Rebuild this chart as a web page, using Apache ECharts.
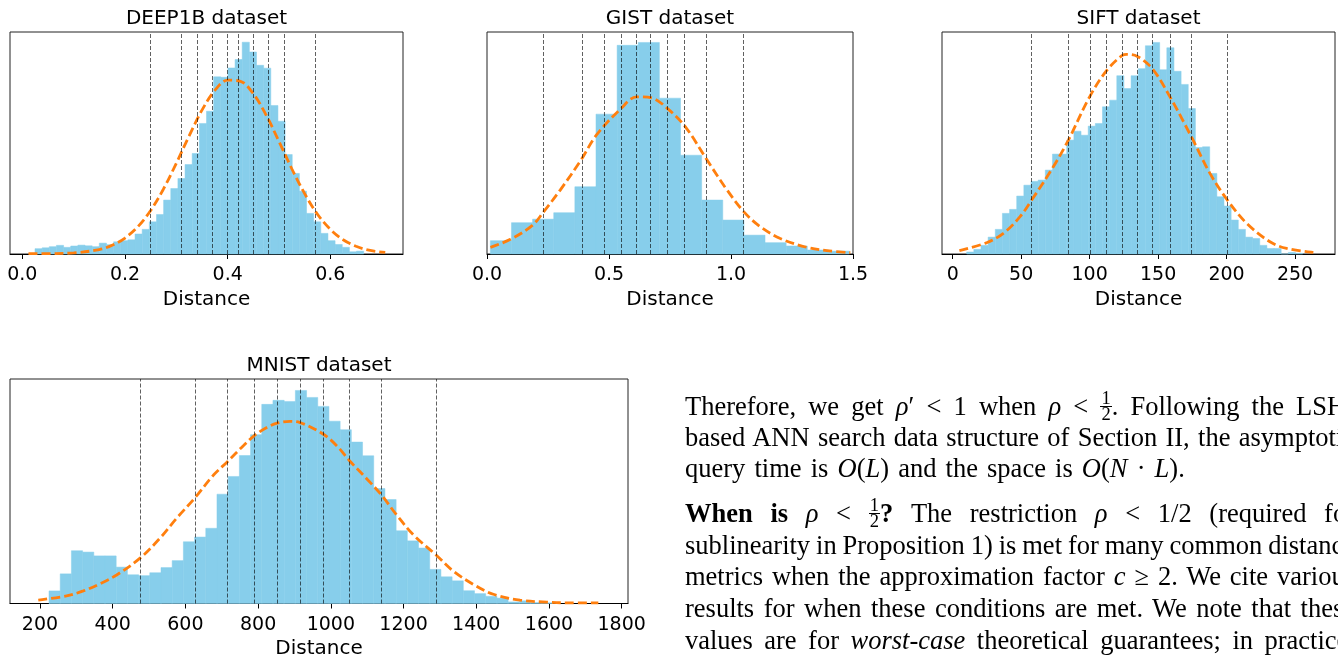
<!DOCTYPE html>
<html>
<head>
<meta charset="utf-8">
<script src="https://cdn.jsdelivr.net/npm/echarts@6/dist/echarts.min.js"></script>
<style>
html,body{margin:0;padding:0;width:1338px;height:660px;overflow:hidden;background:#fff;}
#chart{position:absolute;left:0;top:0;width:1338px;height:660px;}
.ln{position:absolute;left:685px;width:670px;height:31.5px;font-family:'Liberation Serif','Times New Roman',serif;font-size:26.5px;line-height:31.5px;color:#000;text-align:justify;text-align-last:justify;word-spacing:-2.2px;}
.ln.last{text-align:left;text-align-last:left;word-spacing:2.5px;}
.frac{display:inline-block;vertical-align:-5px;font-size:0.7em;text-align:center;line-height:0.8;word-spacing:0;}
.frac span{display:block;padding:0 1px;}
.frac .num{border-bottom:1px solid #000;}
</style>
</head>
<body>
<div id="chart"></div>
<div class="ln" style="top:390.6px">Therefore, we get <i>ρ</i>′ &lt; 1 when <i>ρ</i> &lt; <span class="frac"><span class="num">1</span><span>2</span></span>. Following the LSH-</div>
<div class="ln" style="top:421.9px">based ANN search data structure of Section II, the asymptotic</div>
<div class="ln last" style="top:453.2px">query time is <i>O</i>(<i>L</i>) and the space is <i>O</i>(<i>N</i> · <i>L</i>).</div>
<div class="ln" style="top:498.3px"><b>When is</b> <i>ρ</i> &lt; <span class="frac"><span class="num">1</span><span>2</span></span><b>?</b> The restriction <i>ρ</i> &lt; 1/2 (required for</div>
<div class="ln" style="top:529.6px">sublinearity in Proposition 1) is met for many common distance</div>
<div class="ln" style="top:561.3px">metrics when the approximation factor <i>c</i> ≥ 2. We cite various</div>
<div class="ln" style="top:593px">results for when these conditions are met. We note that these</div>
<div class="ln" style="top:624.6px">values are for <i>worst-case</i> theoretical guarantees; in practice,</div>
<script>
// ---------------- data ----------------
const titles = ['DEEP1B dataset', 'GIST dataset', 'SIFT dataset', 'MNIST dataset'];
const axisName = 'Distance';

// DEEP1B
const deepTicks = [0, 0.2, 0.4, 0.6];
const deepBinStart = 0.0247;
const deepBinWidth = 0.01392;
const deepHeights = [2.4, 2.8, 3.3, 3.9, 3.0, 3.6, 4.0, 3.7, 3.3, 4.9, 4.2, 5.5, 6.0, 6.4, 9.0, 11.1,
  14.5, 17.8, 24.3, 29.5, 34.0, 40.3, 45.3, 58.8, 64.3, 79.8, 79.6, 83.8, 87.6, 95.4, 91.0, 85.0,
  83.7, 66.9, 59.8, 44.8, 36.3, 28.3, 18.3, 14.5, 9.3, 6.0, 4.3, 3.0, 1.0, 1.3];
const deepQuantiles = [0.2501, 0.3097, 0.3447, 0.3728, 0.3981, 0.4227, 0.4480, 0.4761, 0.5117, 0.5715];
const deepCurve = [[0.012, 0.2], [0.05, 0.2], [0.10, 0.5], [0.15, 2.0], [0.175, 3.9], [0.20, 7.2],
  [0.225, 12.3], [0.25, 19.6], [0.275, 29.3], [0.30, 40.9], [0.325, 53.2], [0.35, 64.8], [0.375, 73.7],
  [0.40, 78.3], [0.425, 77.8], [0.45, 72.2], [0.475, 62.6], [0.50, 50.7], [0.525, 38.4], [0.55, 27.2],
  [0.575, 17.9], [0.60, 11.1], [0.625, 6.4], [0.65, 3.5], [0.675, 1.7], [0.707, 0.7]];

// GIST
const gistTicks = [0, 0.5, 1.0, 1.5];
const gistBinStart = 0.0137;
const gistBinWidth = 0.0866;
const gistHeights = [6.0, 14.1, 15.7, 18.6, 30.3, 63.0, 94.0, 95.3, 70.2, 44.5, 24.3, 15.3, 8.5, 5.1, 3.6, 1.8, 1.3];
const gistQuantiles = [0.2337, 0.3854, 0.4755, 0.5493, 0.6133, 0.6748, 0.7403, 0.8128, 0.9018, 1.0534];
const gistCurve = [[0.014, 3.0], [0.096, 6.6], [0.186, 12.9], [0.232, 19.0], [0.30, 28.8], [0.385, 42.3],
  [0.448, 53.5], [0.549, 65.5], [0.613, 70.8], [0.675, 70.3], [0.74, 65.5], [0.813, 57.3], [0.902, 42.3],
  [0.984, 28.8], [1.053, 19.0], [1.12, 12.3], [1.202, 7.0], [1.311, 3.0], [1.393, 1.5], [1.489, 0.6]];

// SIFT
const siftTicks = [0, 50, 100, 150, 200, 250];
const siftBinStart = 10.22;
const siftBinWidth = 5.22;
const siftHeights = [0.9, 2.1, 3.9, 7.6, 11.1, 18.3, 20.1, 26.1, 31.0, 32.7, 33.3, 37.8, 45.0, 45.0, 51.3,
  55.3, 53.5, 57.6, 58.8, 66.3, 69.3, 80.3, 74.5, 80.3, 83.5, 93.8, 95.3, 83.0, 92.9, 82.3, 76.4, 65.5,
  48.0, 48.3, 36.3, 25.8, 21.6, 15.3, 11.1, 7.6, 7.0, 3.9, 2.5, 2.5, 0, 0.7, 0.3];
const siftQuantiles = [57.7, 84.4, 100.1, 112.5, 123.9, 134.8, 145.8, 158.7, 174.3, 200.6];
const siftCurve = [[4.9, 1.5], [24.8, 5.1], [37.0, 9.3], [49.2, 16.8], [57.7, 24.3], [73.5, 39.3],
  [84.5, 51.3], [100.0, 70.8], [112.5, 82.7], [123.9, 89.5], [127.1, 89.9], [134.9, 89.0], [145.8, 83.5],
  [158.7, 70.8], [174.3, 52.8], [187.9, 36.3], [200.6, 24.3], [214.7, 13.8], [231.7, 5.5], [243.9, 2.5],
  [263.4, 0.7]];

// MNIST
const mnistTicks = [200, 400, 600, 800, 1000, 1200, 1400, 1600, 1800];
const mnistBinStart = 224.8;
const mnistBinWidth = 30.8;
const mnistHeights = [5.6, 13.2, 23.5, 22.9, 21.2, 21.2, 16.2, 12.8, 12.4, 13.7, 16.0, 19.1, 27.5, 29.6,
  33.5, 48.7, 56.6, 65.9, 75.2, 88.7, 90.5, 90.0, 94.9, 91.8, 87.8, 81.2, 77.4, 71.9, 65.8, 51.2, 46.3,
  32.4, 27.9, 24.7, 15.2, 11.9, 10.1, 5.7, 4.4, 3.2, 2.4, 0.7, 1.2, 0.4, 0.3];
const mnistQuantiles = [475.9, 626.4, 716.4, 788.7, 852.0, 915.3, 978.6, 1050.9, 1140.0, 1290.2];
const mnistCurve = [[195.3, 1.5], [273.4, 3.4], [319.2, 5.6], [365.0, 8.8], [410.8, 12.7], [476.0, 20.3],
  [530.1, 29.1], [575.9, 38.0], [626.4, 47.1], [676.7, 57.1], [716.3, 63.3], [759.3, 70.3], [788.7, 74.7],
  [823.9, 78.4], [852.2, 80.3], [887.7, 81.1], [915.2, 80.6], [978.5, 75.5], [1016.1, 70.3], [1050.8, 63.7],
  [1098.6, 55.6], [1139.9, 48.2], [1181.2, 39.4], [1226.9, 30.6], [1290.2, 21.5], [1336.9, 14.4],
  [1392.0, 8.5], [1447.0, 4.1], [1520.4, 1.5], [1593.8, 0.6], [1648.8, 0.3], [1735.8, 0.3]];

// ---------------- layout / style ----------------
const FONT = 'DejaVu Sans';
const BAR = '#87ceeb';
const ORANGE = '#ff7f0e';

const panels = [
  {grid: {left: 10, top: 32, width: 393, height: 222}, min: -0.024, max: 0.7416, ticks: deepTicks, dec: 1,
   start: deepBinStart, w: deepBinWidth, h: deepHeights, q: deepQuantiles, curve: deepCurve},
  {grid: {left: 487, top: 32, width: 366, height: 222}, min: 0, max: 1.5, ticks: gistTicks, dec: 1,
   start: gistBinStart, w: gistBinWidth, h: gistHeights, q: gistQuantiles, curve: gistCurve},
  {grid: {left: 942, top: 32, width: 393, height: 222}, min: -7.8, max: 279.2, ticks: siftTicks, dec: 0,
   start: siftBinStart, w: siftBinWidth, h: siftHeights, q: siftQuantiles, curve: siftCurve},
  {grid: {left: 10, top: 379, width: 618, height: 227}, min: 117.5, max: 1817.4, ticks: mnistTicks, dec: 0,
   start: mnistBinStart, w: mnistBinWidth, h: mnistHeights, q: mnistQuantiles, curve: mnistCurve}
];

function renderHist(params, api) {
  const p0 = api.coord([api.value(0), api.value(2)]);
  const p1 = api.coord([api.value(1), 0]);
  return {
    type: 'rect',
    shape: {x: p0[0], y: p0[1], width: p1[0] - p0[0], height: p1[1] - p0[1]},
    style: {fill: BAR, stroke: BAR, lineWidth: 0.5}
  };
}

const grids = [], xAxes = [], yAxes = [], series = [], graphics = [];
panels.forEach((p, i) => {
  grids.push(Object.assign({show: true, borderColor: '#222', borderWidth: 1, backgroundColor: 'transparent'}, p.grid));
  xAxes.push({
    gridIndex: i, type: 'value', min: p.min, max: p.max,
    splitLine: {show: false},
    axisLine: {show: true, onZero: false, lineStyle: {color: '#000', width: 1}},
    axisTick: {show: true, customValues: p.ticks, length: 5, inside: false, lineStyle: {color: '#000', width: 1}},
    axisLabel: {show: true, customValues: p.ticks, margin: 12, fontFamily: FONT, fontSize: 19, color: '#000',
      showMinLabel: true, showMaxLabel: true,
      formatter: (v) => Number(v).toFixed(p.dec)},
    name: axisName, nameLocation: 'middle', nameGap: 35.5,
    nameTextStyle: {fontFamily: FONT, fontSize: 20, color: '#000'}
  });
  yAxes.push({gridIndex: i, type: 'value', min: 0, max: 100, show: false, splitLine: {show: false}});
  const histData = p.h.map((v, k) => [p.start + k * p.w, p.start + (k + 1) * p.w, v]);
  series.push({
    type: 'custom', xAxisIndex: i, yAxisIndex: i, renderItem: renderHist,
    encode: {x: [0, 1], y: 2}, data: histData, z: 2, silent: true
  });
  series.push({
    type: 'line', xAxisIndex: i, yAxisIndex: i, data: p.curve, smooth: 0.35, showSymbol: false,
    symbol: 'none', silent: true, z: 4,
    lineStyle: {color: ORANGE, width: 2.8, type: [9, 4]},
    markLine: {
      silent: true, symbol: ['none', 'none'], label: {show: false}, animation: false,
      lineStyle: {color: 'rgba(0,0,0,0.62)', width: 1, type: [4, 2]},
      emphasis: {disabled: true},
      data: p.q.map(v => ({xAxis: v}))
    }
  });
  const g = p.grid;
  graphics.push({
    type: 'text', x: g.left + g.width / 2, y: g.top - 13.5, silent: true,
    style: {text: titles[i], fontFamily: FONT, fontSize: 20, fill: '#000',
      textAlign: 'center', align: 'center', textVerticalAlign: 'middle', verticalAlign: 'middle'}
  });
});

const chart = echarts.init(document.getElementById('chart'), null, {renderer: 'canvas', width: 1338, height: 660});
chart.setOption({
  animation: false,
  backgroundColor: '#fff',
  grid: grids, xAxis: xAxes, yAxis: yAxes, series: series, graphic: graphics
});
</script>
</body>
</html>
